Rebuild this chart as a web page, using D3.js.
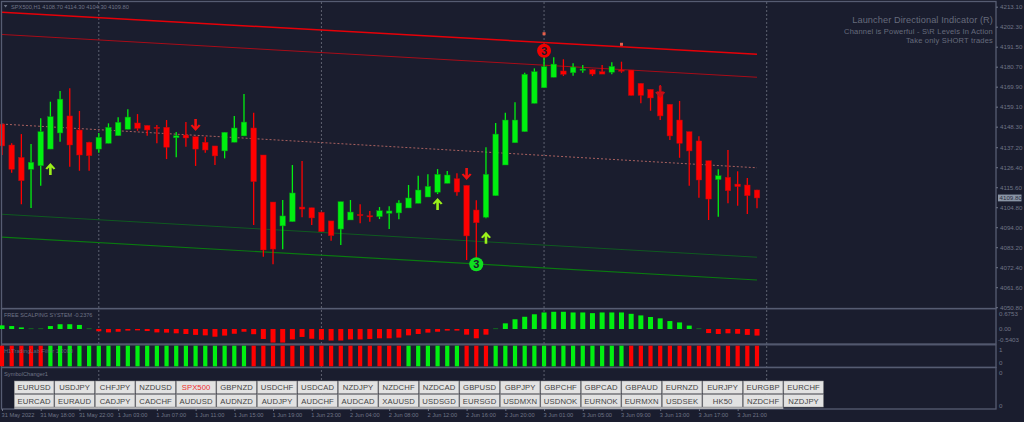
<!DOCTYPE html>
<html><head><meta charset="utf-8">
<script src="https://cdnjs.cloudflare.com/ajax/libs/d3/7.8.5/d3.min.js"></script>
<style>html,body{margin:0;padding:0;background:#1a1d2e;overflow:hidden}svg{display:block}text{font-family:"Liberation Sans",Arial,sans-serif}</style>
</head><body><svg id="c" width="1024" height="422"></svg>
<script>
const open=[4149.7,4138.4,4131.7,4125.3,4127.2,4136.2,4144.9,4154.1,4146.5,4139.9,4136.2,4139.3,4143.4,4146.9,4150.3,4149.0,4148.0,4148.0,4142.3,4143.8,4142.9,4139.9,4137.9,4135.2,4139.9,4143.3,4147.6,4133.0,4107.6,4094.7,4097.0,4104.9,4104.5,4102.1,4097.4,4093.0,4097.9,4100.9,4100.2,4099.7,4101.5,4101.7,4104.4,4106.9,4110.3,4112.9,4117.7,4120.2,4116.6,4103.3,4099.4,4111.0,4127.6,4139.6,4145.6,4160.9,4169.3,4175.0,4178.4,4177.4,4178.9,4179.1,4178.0,4177.7,4178.9,4178.9,4171.7,4168.5,4167.2,4160.4,4151.9,4145.6,4140.6,4129.9,4119.7,4121.0,4117.3,4116.8,4114.1];
const high=[4149.7,4139.3,4144.3,4138.9,4152.8,4161.8,4167.6,4169.0,4156.8,4140.2,4144.9,4150.1,4153.4,4157.7,4155.1,4149.0,4149.2,4151.9,4145.4,4150.8,4142.9,4142.9,4137.9,4145.4,4154.1,4165.9,4155.8,4133.0,4107.6,4108.7,4127.6,4129.8,4104.5,4102.4,4097.4,4107.8,4108.7,4106.4,4102.8,4104.9,4105.3,4108.5,4116.8,4121.8,4122.6,4125.4,4124.4,4123.1,4116.6,4108.5,4137.2,4150.3,4155.8,4161.5,4177.4,4179.8,4186.1,4185.8,4184.7,4182.5,4181.6,4179.4,4181.6,4183.1,4183.4,4178.9,4171.7,4168.5,4170.8,4160.4,4162.2,4145.6,4143.1,4129.9,4125.3,4135.7,4124.2,4120.6,4114.3];
const low=[4133.0,4123.4,4106.4,4104.4,4116.4,4136.2,4140.2,4126.7,4124.5,4124.5,4134.2,4139.3,4143.4,4146.9,4146.1,4143.4,4139.3,4130.8,4131.8,4137.5,4127.1,4134.2,4127.6,4131.2,4139.9,4143.3,4095.2,4078.1,4074.0,4082.1,4097.0,4099.4,4095.2,4091.6,4086.7,4084.4,4097.9,4096.1,4097.0,4098.4,4093.0,4098.3,4104.4,4106.9,4110.3,4111.9,4117.7,4111.0,4076.3,4077.4,4098.8,4111.0,4127.6,4139.6,4145.6,4160.9,4169.3,4175.0,4175.7,4175.8,4177.4,4175.7,4176.7,4176.6,4177.4,4165.2,4160.9,4156.9,4151.9,4141.1,4131.5,4116.4,4109.9,4097.9,4099.7,4106.9,4105.6,4101.1,4104.3];
const close=[4137.9,4125.3,4119.1,4129.1,4145.6,4153.7,4163.2,4138.4,4133.0,4132.6,4142.6,4148.0,4150.7,4153.5,4147.4,4146.5,4147.4,4137.2,4143.4,4142.2,4136.2,4135.7,4132.5,4145.3,4147.6,4150.8,4118.6,4081.7,4082.2,4100.1,4112.5,4103.8,4099.0,4091.6,4089.4,4107.8,4102.2,4100.3,4099.7,4102.9,4102.8,4107.1,4109.8,4114.1,4116.1,4122.6,4122.2,4113.0,4089.3,4096.4,4122.6,4144.3,4151.9,4151.9,4176.6,4178.0,4180.7,4182.1,4176.6,4180.5,4179.4,4176.7,4176.7,4180.9,4178.5,4165.2,4165.2,4163.8,4154.1,4143.3,4139.3,4135.2,4119.5,4109.2,4121.8,4113.7,4115.9,4111.0,4109.8];
const scalping=[.16,.13,.07,.03,.03,.13,.21,.21,.18,.03,-.10,-.15,-.12,-.07,-.06,-.09,-.15,-.16,-.19,-.22,-.26,-.28,-.34,-.29,-.21,-.12,-.23,-.44,-.60,-.60,-.46,-.35,-.43,-.47,-.51,-.51,-.46,-.46,-.44,-.41,-.41,-.38,-.28,-.22,-.16,-.12,-.07,-.07,-.25,-.41,-.25,.03,.25,.43,.54,.65,.73,.76,.76,.73,.73,.70,.73,.73,.73,.67,.60,.53,.47,.35,.29,.15,.03,-.18,-.22,-.19,-.21,-.26,-.29];
const filterUp=[0,0,0,0,0,1,1,1,1,1,1,1,1,1,1,1,1,1,1,1,1,1,1,1,1,1,0,0,0,0,0,0,0,0,0,0,0,0,0,0,0,0,1,1,1,1,1,1,0,0,0,1,1,1,1,1,1,1,1,1,1,1,1,1,1,0,0,0,0,0,0,0,0,0,0,0,0,0,0];
const channels=[
 {name:"upper",from:4210.1,to:4187.4,color:"#e60008",w:1.5},
 {name:"upper2",from:4198.1,to:4175.0,color:"#a80c18",w:1},
 {name:"mid",from:4149.7,to:4126.1,color:"#a8605f",w:1,dash:"2 2"},
 {name:"lower2",from:4101.0,to:4077.8,color:"#0f5a20",w:1},
 {name:"lower",from:4088.7,to:4065.5,color:"#0a7a10",w:1.2}];
const upArrows=[[5,4128.7],[45,4109.8],[50,4091.6]];
const downArrows=[[20,4146.0],[48,4119.5],[68,4163.8]];
const circles=[[56,4189.3,"#f00000"],[49,4074.0,"#10e020"]];
const squares=[[56,4198.5],[64,4192.8]];
const priceTicks=[4213.10,4202.30,4191.50,4180.70,4169.90,4159.10,4148.30,4137.20,4126.40,4115.60,4104.80,4094.00,4083.20,4072.40,4061.60,4050.80];
const timeLabels=["31 May 2022","31 May 18:00","31 May 22:00","1 Jun 03:00","1 Jun 07:00","1 Jun 11:00","1 Jun 15:00","1 Jun 19:00","1 Jun 23:00","2 Jun 04:00","2 Jun 08:00","2 Jun 12:00","2 Jun 16:00","2 Jun 20:00","3 Jun 01:00","3 Jun 05:00","3 Jun 09:00","3 Jun 13:00","3 Jun 17:00","3 Jun 21:00"];
const dayBars=[10,33,56,79];
const row1=["EURUSD","USDJPY","CHFJPY","NZDUSD","SPX500","GBPNZD","USDCHF","USDCAD","NZDJPY","NZDCHF","NZDCAD","GBPUSD","GBPJPY","GBPCHF","GBPCAD","GBPAUD","EURNZD","EURJPY","EURGBP","EURCHF"];
const row2=["EURCAD","EURAUD","CADJPY","CADCHF","AUDUSD","AUDNZD","AUDJPY","AUDCHF","AUDCAD","XAUUSD","USDSGD","EURSGD","USDMXN","USDNOK","EURNOK","EURMXN","USDSEK","HK50","NZDCHF","NZDJPY"];
const headline=["Launcher Directional Indicator (R)","Channel is Powerful - S\\R Levels In Action","Take only SHORT trades"];

const svg=d3.select("#c");
const GREEN="#00f010",RED="#ff0000",FRAME="#565c72",TXT="#6f7486",BG="#1a1d2e";
const x=d3.scaleLinear().domain([0,78]).range([2,757]);
const y=d3.scaleLinear().domain([4213.1,4050.8]).range([6.7,307.2]);
const yS=d3.scaleLinear().domain([0,.6753]).range([329,313.7]);
const yF=d3.scaleLinear().domain([0,1]).range([366.3,345.7]);
const barW=5.6;

svg.append("g").selectAll("line").data(dayBars).join("line")
 .attr("x1",x).attr("x2",x).attr("y1",2).attr("y2",409)
 .attr("stroke","#5d6170").attr("stroke-width",1).attr("stroke-dasharray","2 2");

svg.append("g").selectAll("line").data(channels).join("line")
 .attr("x1",x(0)).attr("x2",x(78)).attr("y1",d=>y(d.from)).attr("y2",d=>y(d.to))
 .attr("stroke",d=>d.color).attr("stroke-width",d=>d.w).attr("stroke-dasharray",d=>d.dash||null);

const idx=d3.range(open.length);
const col=i=>close[i]>=open[i]?GREEN:RED;
const dark=i=>close[i]>=open[i]?"#0a8a18":"#a80c14";
const cg=svg.append("g");
cg.selectAll("line").data(idx).join("line")
 .attr("x1",x).attr("x2",x).attr("y1",i=>y(high[i])).attr("y2",i=>y(low[i]))
 .attr("stroke",col).attr("stroke-width",1.3);
cg.selectAll("rect").data(idx).join("rect")
 .attr("x",i=>x(i)-barW/2).attr("width",barW)
 .attr("y",i=>y(Math.max(open[i],close[i])))
 .attr("height",i=>Math.max(1.2,Math.abs(y(open[i])-y(close[i]))))
 .attr("fill",col).attr("stroke",dark).attr("stroke-width",.5);

const up="M0,0 L5,5.5 L3.2,6.5 L1.3,4.5 L1.3,12 L-1.3,12 L-1.3,4.5 L-3.2,6.5 L-5,5.5 Z";
const dn="M0,0 L5,-5.5 L3.2,-6.5 L1.3,-4.5 L1.3,-12 L-1.3,-12 L-1.3,-4.5 L-3.2,-6.5 L-5,-5.5 Z";
svg.append("g").selectAll("path").data(upArrows).join("path").attr("d",up)
 .attr("transform",d=>`translate(${x(d[0])},${y(d[1])})`).attr("fill","#9bf01a");
svg.append("g").selectAll("path").data(downArrows).join("path").attr("d",dn)
 .attr("transform",d=>`translate(${x(d[0])},${y(d[1])})`).attr("fill",(d,i)=>i==2?"#c01018":"#f01010");
const cc=svg.append("g").selectAll("g").data(circles).join("g")
 .attr("transform",d=>`translate(${x(d[0])},${y(d[1])})`);
cc.append("circle").attr("r",7).attr("fill",d=>d[2]);
cc.append("text").attr("text-anchor","middle").attr("y",4).attr("font-size",11).attr("font-weight","bold")
 .attr("fill",BG).text("3");
svg.append("g").selectAll("rect").data(squares).join("rect")
 .attr("x",d=>x(d[0])-1.5).attr("y",d=>y(d[1])-1.5).attr("width",3).attr("height",3).attr("fill","#e8604c");

const frames=[[1.5,1.5,994.5,307],[1.5,308.7,994.5,35.3],[1.5,344.8,994.5,22.5],[1.5,367.6,994.5,41.4]];
svg.append("g").selectAll("rect").data(frames).join("rect")
 .attr("x",d=>d[0]).attr("y",d=>d[1]).attr("width",d=>d[2]).attr("height",d=>d[3])
 .attr("fill","none").attr("stroke",FRAME).attr("stroke-width",1.3);

svg.append("g").selectAll("rect").data(scalping).join("rect")
 .attr("x",(d,i)=>x(i)-2.5).attr("width",5)
 .attr("y",d=>d>=0?yS(d):yS(0)).attr("height",d=>Math.max(.8,Math.abs(yS(d)-yS(0))))
 .attr("fill",d=>Math.abs(d)<.05?"#0f7a1c":d>=0?GREEN:RED);

svg.append("g").selectAll("rect").data(filterUp).join("rect")
 .attr("x",(d,i)=>x(i)-2.1).attr("width",4.2)
 .attr("y",yF(1)).attr("height",yF(0)-yF(1))
 .attr("fill",d=>d?GREEN:RED);
svg.append("text").attr("x",4).attr("y",352.6).attr("font-size",5.7).attr("fill",TXT).attr("opacity",.8).text("H1TradingLab Filter 1.0000");

const ax=d3.axisRight(y).tickValues(priceTicks).tickFormat(d3.format(".2f")).tickSize(2).tickPadding(2);
const ag=svg.append("g").attr("transform","translate(996,0)").call(ax);
ag.select(".domain").remove();
ag.selectAll("line").attr("stroke",TXT);
ag.selectAll("text").attr("font-size",6.2).attr("fill",TXT).attr("font-family","Liberation Sans");
svg.append("rect").attr("x",998).attr("y",y(close[78])-3.4).attr("width",23.5).attr("height",6.8).attr("fill","#8a95a6");
svg.append("text").attr("x",999.5).attr("y",y(close[78])+2.2).attr("font-size",6.2).attr("fill","#2a2e40").text(d3.format(".2f")(close[78]));
const sideLabels=[["0.6753",315.8],["0.00",331.2],["-0.5403",341.8],["1",351.8],["0",365],["0",374.6],["0",407.6]];
svg.append("g").selectAll("text").data(sideLabels).join("text")
 .attr("x",(d)=>d[0]=="-0.5403"?998:999).attr("y",d=>d[1]).attr("font-size",6.2).attr("fill",TXT).text(d=>d[0]);

svg.append("path").attr("d","M3.8,5 L7.4,5 L5.6,7.4 Z").attr("fill",TXT);
svg.append("text").attr("x",11).attr("y",8.6).attr("font-size",5.7).attr("fill",TXT)
 .text("SPX500,H1  "+[open[78]-5.4,high[78],low[78],close[78]].map(d3.format(".2f")).join(" "));
svg.append("text").attr("x",4).attr("y",317.4).attr("font-size",5.5).attr("fill",TXT).text("FREE SCALPING SYSTEM -0.2376");
svg.append("text").attr("x",4).attr("y",376).attr("font-size",5.7).attr("fill",TXT).text("SymbolChanger1");
svg.append("g").attr("text-anchor","end").selectAll("text").data(headline).join("text")
 .attr("x",993).attr("y",(d,i)=>[23,33.8,42.8][i]).attr("font-size",(d,i)=>i?7.5:9.2)
 .attr("fill","#666b7c").attr("letter-spacing",(d,i)=>i?.2:.1).text(d=>d);

const bx=d3.scaleLinear().domain([0,19]).range([14.3,783.8]);
svg.append("rect").attr("x",14.3).attr("y",407.2).attr("width",769).attr("height",1.6).attr("fill","#cfcfcf");
[[row1,381],[row2,394.4]].forEach(([row,top])=>{
 const g=svg.append("g").selectAll("g").data(row).join("g").attr("transform",(d,i)=>`translate(${bx(i)},${top})`);
 g.append("rect").attr("width",39.6).attr("height",12.6).attr("fill","#e2e2e2").attr("stroke","#8c8c8c").attr("stroke-width",.5);
 g.append("text").attr("x",19.8).attr("y",9.4).attr("text-anchor","middle").attr("font-size",7.7)
  .attr("letter-spacing",.1).attr("fill",d=>d=="SPX500"?"#f03030":"#444").text(d=>d);
});

const tx=d3.axisBottom(x).tickValues(timeLabels.map((d,i)=>i*4)).tickFormat((d,i)=>timeLabels[i]).tickSize(2).tickPadding(3);
const tg=svg.append("g").attr("transform","translate(0,409)").call(tx);
tg.select(".domain").remove();
tg.selectAll("line").attr("stroke",TXT);
tg.selectAll("text").attr("font-size",5.7).attr("fill",TXT).attr("text-anchor","start").attr("font-family","Liberation Sans").attr("x",-1).attr("dy",".6em");
</script></body></html>
